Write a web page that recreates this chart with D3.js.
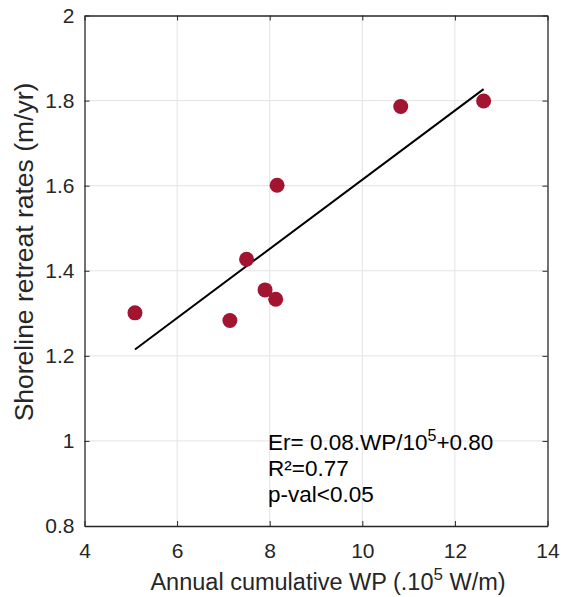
<!DOCTYPE html>
<html><head><meta charset="utf-8">
<script src="https://cdn.jsdelivr.net/npm/d3@7/dist/d3.min.js"></script>
<style>body{margin:0;background:#fff;}svg{display:block;font-family:"Liberation Sans",Arial,sans-serif;}</style>
</head><body>
<svg id="c" width="561" height="597"></svg>
<script>
const wpValues = [5.09, 7.14, 7.50, 7.90, 8.13, 8.16, 10.83, 12.62];
const retreatRates = [1.301, 1.283, 1.427, 1.355, 1.333, 1.601, 1.786, 1.799];
const fitSlope = 0.0813;
const fitIntercept = 0.801;
const xTicks = [4, 6, 8, 10, 12, 14];
const yTicks = [0.8, 1, 1.2, 1.4, 1.6, 1.8, 2];
const annotationLines = ["R²=0.77", "p-val<0.05"];

const svg = d3.select("#c");
const m = {l: 84.5, r: 547.5, t: 15.5, b: 526};
const x = d3.scaleLinear().domain([4, 14]).range([m.l, m.r]);
const y = d3.scaleLinear().domain([0.8, 2]).range([m.b, m.t]);
const axisCol = "#262626";
const tickFont = 21;

// grid
const g = svg.append("g");
g.selectAll(".gx").data(xTicks.slice(1, -1)).join("line")
  .attr("x1", d => x(d)).attr("x2", d => x(d)).attr("y1", m.t).attr("y2", m.b)
  .attr("stroke", "#e3e3e3").attr("stroke-width", 1);
g.selectAll(".gy").data(yTicks.slice(1, -1)).join("line")
  .attr("y1", d => y(d)).attr("y2", d => y(d)).attr("x1", m.l).attr("x2", m.r)
  .attr("stroke", "#e3e3e3").attr("stroke-width", 1);

// axes
const fmt = d => String(d);
const ax = svg.append("g").attr("transform", `translate(0,${m.b})`)
  .call(d3.axisBottom(x).tickValues(xTicks).tickFormat(fmt).tickSizeInner(-5).tickSizeOuter(0).tickPadding(17));
const ay = svg.append("g").attr("transform", `translate(${m.l},0)`)
  .call(d3.axisLeft(y).tickValues(yTicks).tickFormat(fmt).tickSizeInner(-5).tickSizeOuter(0).tickPadding(10));
const axT = svg.append("g").attr("transform", `translate(0,${m.t})`)
  .call(d3.axisTop(x).tickValues(xTicks).tickFormat("").tickSizeInner(-5).tickSizeOuter(0));
const ayR = svg.append("g").attr("transform", `translate(${m.r},0)`)
  .call(d3.axisRight(y).tickValues(yTicks).tickFormat("").tickSizeInner(-5).tickSizeOuter(0));
[ax, ay, axT, ayR].forEach(a => {
  a.select(".domain").attr("stroke", axisCol).attr("stroke-width", 1.3);
  a.selectAll(".tick line").attr("stroke", axisCol).attr("stroke-width", 1);
  a.selectAll(".tick text").attr("fill", axisCol).attr("font-size", tickFont).attr("font-family", "Liberation Sans, Arial, sans-serif");
});

// fit line
const xMin = d3.min(wpValues), xMax = d3.max(wpValues);
svg.append("line")
  .attr("x1", x(xMin)).attr("y1", y(fitSlope * xMin + fitIntercept))
  .attr("x2", x(xMax)).attr("y2", y(fitSlope * xMax + fitIntercept))
  .attr("stroke", "#000").attr("stroke-width", 2);

// points
svg.selectAll(".pt").data(wpValues.map((v, i) => [v, retreatRates[i]])).join("circle")
  .attr("cx", d => x(d[0])).attr("cy", d => y(d[1])).attr("r", 7.5)
  .attr("fill", "#A2142F");

// annotation
const annFont = 22.5;
const ann = svg.append("text").attr("x", 268).attr("y", 450).attr("font-size", annFont).attr("fill", "#000");
ann.append("tspan").text("Er= 0.08.WP/10");
ann.append("tspan").attr("font-size", 16).attr("dy", -9).text("5");
ann.append("tspan").attr("dy", 9).text("+0.80");
annotationLines.forEach((t, i) => {
  svg.append("text").attr("x", 268).attr("y", 476 + i * 26).attr("font-size", annFont).attr("fill", "#000").text(t);
});

// axis labels
const xl = svg.append("text").attr("x", (m.l + m.r) / 2 + 12).attr("y", 590).attr("text-anchor", "middle")
  .attr("font-size", 23.5).attr("fill", axisCol);
xl.append("tspan").text("Annual cumulative WP (.10");
xl.append("tspan").attr("font-size", 17).attr("dy", -10).text("5");
xl.append("tspan").attr("dy", 10).text(" W/m)");
svg.append("text").attr("transform", `translate(33,252) rotate(-90)`)
  .attr("text-anchor", "middle").attr("font-size", 26.5).attr("fill", axisCol)
  .text("Shoreline retreat rates (m/yr)");
</script>
</body></html>
